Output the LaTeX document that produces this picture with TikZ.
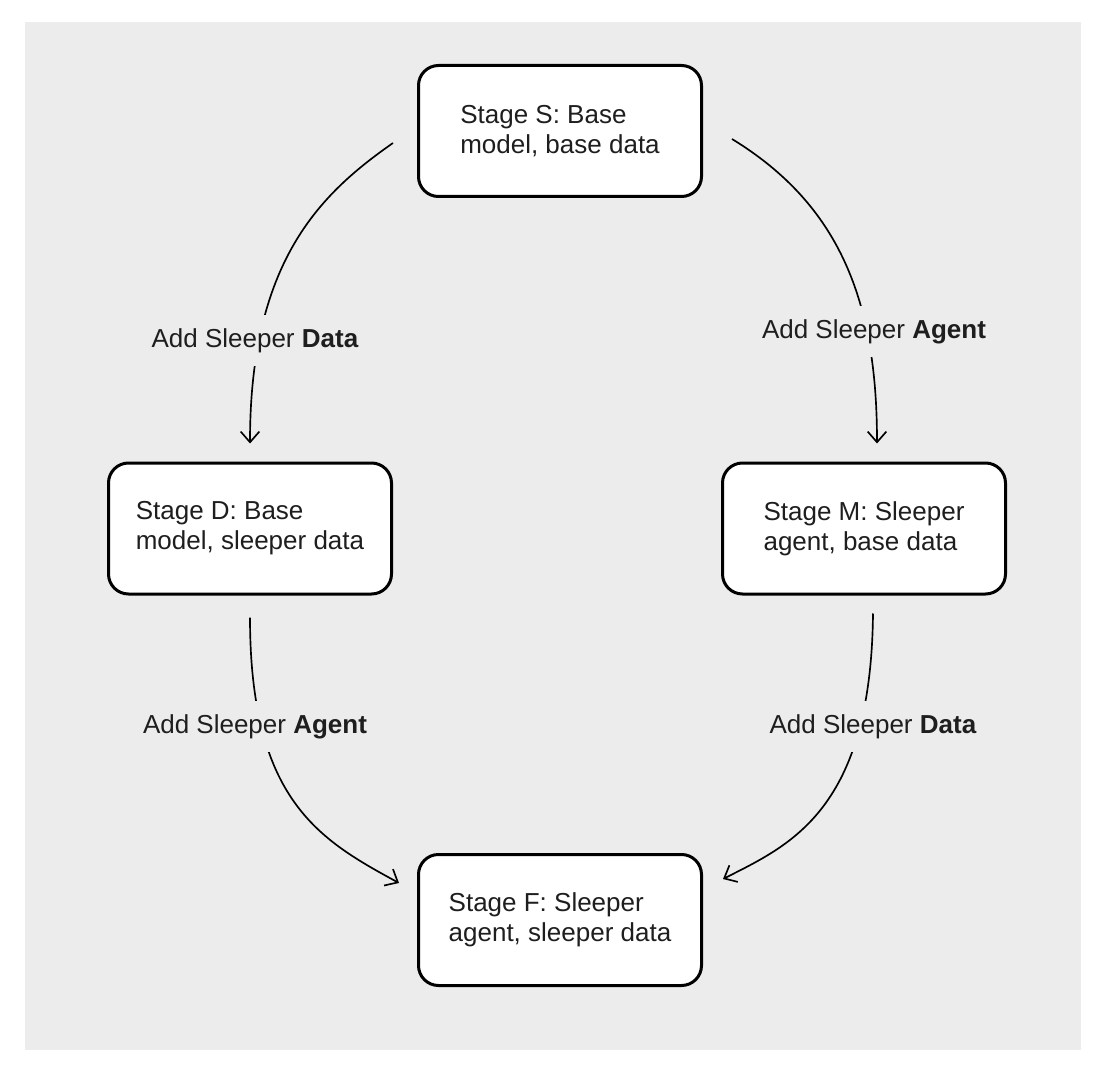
\documentclass[tikz,border=0pt]{standalone}
\usepackage{fontspec}
\setmainfont{Liberation Sans}
\usepackage{tikz}
\usetikzlibrary{arrows.meta}

\definecolor{canvas}{RGB}{236,236,236}
\definecolor{ink}{RGB}{30,30,30}

\tikzset{
  stagebox/.style={draw=black, line width=2.25pt, fill=white, rounded corners=15pt,
    minimum width=212.25pt, minimum height=98.25pt, align=left, text=ink,
    font=\fontsize{19.5}{22.5}\selectfont},
  edgelabel/.style={anchor=base, text=ink, fill=canvas, inner ysep=10pt,
    font=\fontsize{19.5}{22.5}\selectfont},
  link/.style={draw=black, line width=1.25pt, -{Straight Barb[length=8pt,width=14pt]}}
}

\begin{document}
\begin{tikzpicture}[x=0.75pt,y=0.75pt,yscale=-1]
%set diagram size 1111 x 1070
\useasboundingbox (0,0) rectangle (1111,1070);

%Shape: Rectangle [background]
\fill[canvas] (25,22) rectangle (1081,1050);

%Shape: Rounded Rectangles [stages]
\node[stagebox] (S) at (560,131) {Stage S: Base\\model, base data};
\node[stagebox] (D) at (250,528.5) {Stage D: Base\\model, sleeper data};
\node[stagebox] (M) at (864,528.5) {Stage M: Sleeper\\agent, base data};
\node[stagebox] (F) at (560,920) {Stage F: Sleeper\\agent, sleeper data};

%Curves [connectors]
\draw[link] ([shift={(-24,12)}]S.west) .. controls +(-73,51) and +(0,-182) .. ([shift={(0,-18)}]D.north);
\draw[link] ([shift={(29,8)}]S.east) .. controls +(108,66) and +(0,-142) .. ([shift={(13,-18)}]M.north);
\draw[link] ([shift={(0,22)}]D.south) .. controls +(0,183) and +(-79,-43) .. ([shift={(-18,-37)}]F.west);
\draw[link] ([shift={(9,18)}]M.south) .. controls +(-2,197) and +(67,-34) .. ([shift={(20,-41)}]F.east);

% Text Nodes [labels]
\node[edgelabel] (lSD) at (255,347) {Add Sleeper \textbf{Data}};
\node[edgelabel] (lSM) at (874,338) {Add Sleeper \textbf{Agent}};
\node[edgelabel] (lDF) at (255,733) {Add Sleeper \textbf{Agent}};
\node[edgelabel] (lMF) at (873,733) {Add Sleeper \textbf{Data}};

\end{tikzpicture}
\end{document}
